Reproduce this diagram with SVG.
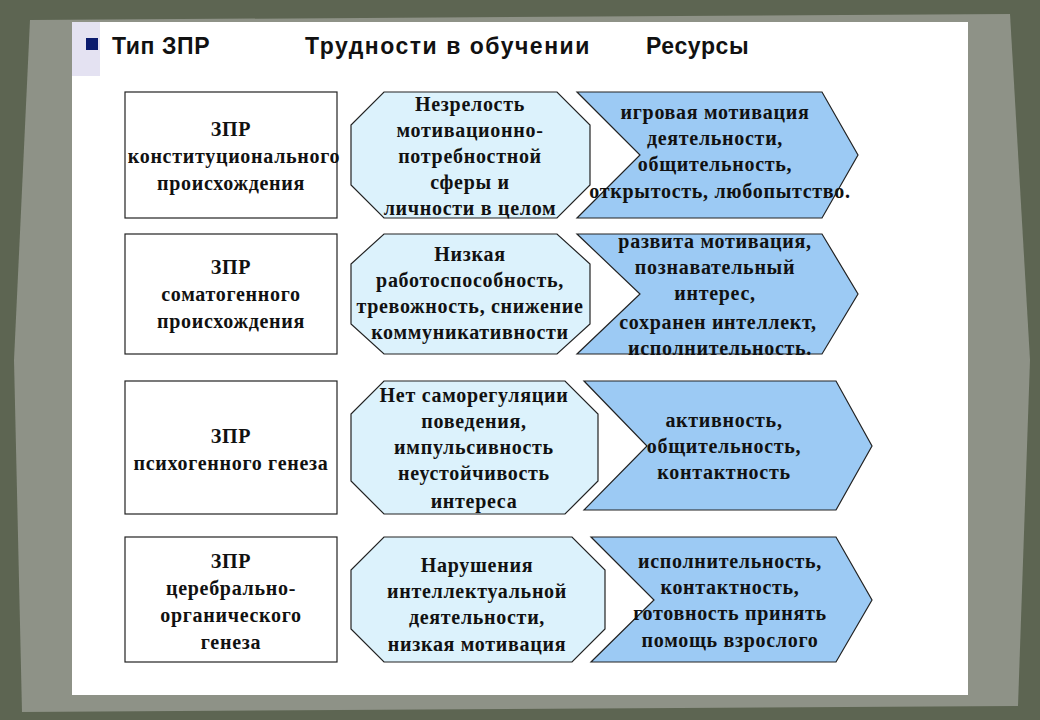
<svg xmlns="http://www.w3.org/2000/svg" width="1040" height="720" viewBox="0 0 1040 720">
<style>
.box{fill:#fff;stroke:#222;stroke-width:1.2}
.oct{fill:#dcf2fc;stroke:#222;stroke-width:1.2}
.chev{fill:#9ccaf4;stroke:#222;stroke-width:1.2}
text{font-family:"Liberation Serif",serif;font-weight:bold;font-size:20px;letter-spacing:0.7px;fill:#111;text-anchor:middle}
.h{font-family:"Liberation Sans",Arial,sans-serif;font-size:23px;letter-spacing:0.6px;text-anchor:start}
</style>
<rect width="1040" height="720" fill="#5d6552"/>
<path d="M30 20 L1010 14 L1030 360 L1018 706 L22 712 L14 360 Z" fill="#8e9287"/>
<rect x="72" y="22" width="896" height="673" fill="#fff"/>
<rect x="72" y="22" width="28" height="54" fill="#e4e2f2"/>
<rect x="86" y="38" width="12" height="12" fill="#0a1a6e"/>
<text class="h" x="112" y="54">Тип ЗПР</text>
<text class="h" x="305" y="54" textLength="285">Трудности  в обучении</text>
<text class="h" x="646" y="54">Ресурсы</text>
<g id="connectors"/>
<g id="row1">
<rect class="box" x="125" y="92" width="212" height="126"/>
<text x="231" y="136">ЗПР</text><text x="234" y="163">конституционального</text><text x="231" y="190">происхождения</text>
<polygon class="chev" points="577,92 822,92 858,155 822,218 577,218 640,155"/>
<polygon class="oct" points="384,92 557,92 590,125 590,185 557,218 384,218 351,185 351,125"/>
<text x="470" y="111">Незрелость</text><text x="470" y="137">мотивационно-</text><text x="470" y="163">потребностной</text><text x="470" y="189">сферы и</text><text x="470" y="215">личности в целом</text>
<text x="715" y="119">игровая мотивация</text><text x="715" y="145">деятельности,</text><text x="715" y="171">общительность,</text><text x="720" y="198">открытость, любопытство.</text>
</g>
<g id="row2">
<rect class="box" x="125" y="234" width="212" height="120"/>
<text x="231" y="274">ЗПР</text><text x="231" y="301">соматогенного</text><text x="231" y="328">происхождения</text>
<polygon class="chev" points="577,234 822,234 858,294 822,354 577,354 640,294"/>
<polygon class="oct" points="384,234 557,234 590,264 590,324 557,354 384,354 351,324 351,264"/>
<text x="470" y="261">Низкая</text><text x="470" y="287">работоспособность,</text><text x="470" y="313">тревожность, снижение</text><text x="470" y="339">коммуникативности</text>
<text x="715" y="248">развита мотивация,</text><text x="715" y="274">познавательный</text><text x="715" y="300">интерес,</text><text x="718" y="329">сохранен интеллект,</text><text x="720" y="355">исполнительность.</text>
</g>
<g id="row3">
<rect class="box" x="125" y="381" width="212" height="133"/>
<text x="231" y="443">ЗПР</text><text x="231" y="470">психогенного генеза</text>
<polygon class="chev" points="584,381 836,381 872,446 836,510 584,510 647,446"/>
<polygon class="oct" points="384,381 565,381 598,414 598,481 565,514 384,514 351,481 351,414"/>
<text x="474" y="402">Нет саморегуляции</text><text x="474" y="428">поведения,</text><text x="474" y="454">импульсивность</text><text x="474" y="480">неустойчивость</text><text x="474" y="508">интереса</text>
<text x="724" y="427">активность,</text><text x="724" y="453">общительность,</text><text x="724" y="479">контактность</text>
</g>
<g id="row4">
<rect class="box" x="125" y="537" width="212" height="125"/>
<text x="231" y="568">ЗПР</text><text x="231" y="595">церебрально-</text><text x="231" y="622">органического</text><text x="231" y="649">генеза</text>
<polygon class="chev" points="591,537 836,537 872,600 836,662 591,662 654,600"/>
<polygon class="oct" points="384,537 572,537 605,570 605,629 572,662 384,662 351,629 351,570"/>
<text x="477" y="572">Нарушения</text><text x="477" y="598">интеллектуальной</text><text x="477" y="624">деятельности,</text><text x="477" y="651">низкая мотивация</text>
<text x="730" y="568">исполнительность,</text><text x="730" y="594">контактность,</text><text x="730" y="620">готовность принять</text><text x="730" y="647">помощь взрослого</text>
</g>
</svg>
